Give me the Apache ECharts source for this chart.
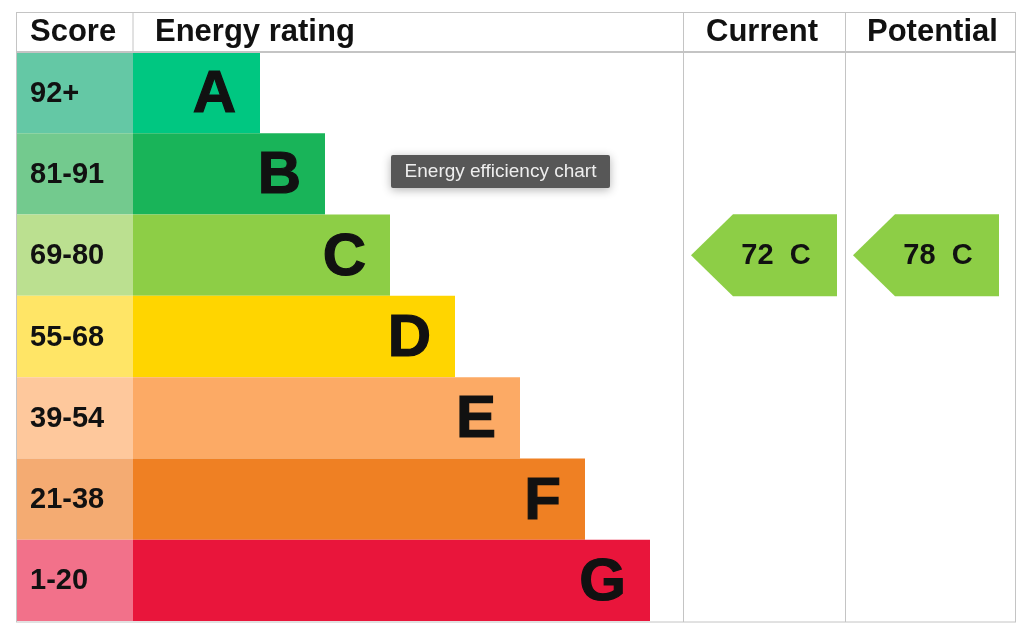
<!DOCTYPE html>
<html>
<head>
<meta charset="utf-8">
<script src="https://cdn.jsdelivr.net/npm/echarts@6/dist/echarts.min.js"></script>
<style>
  html, body { margin: 0; padding: 0; background: #fff; }
  #chart { width: 1024px; height: 637px; }
</style>
</head>
<body>
<div id="chart"></div>
<script>
// energy bands, top (best) to bottom (worst)
var bands = ['A', 'B', 'C', 'D', 'E', 'F', 'G'];
var scoreRanges = ['92+', '81-91', '69-80', '55-68', '39-54', '21-38', '1-20'];
var bandMin = [92, 81, 69, 55, 39, 21, 1];
// bar length of each band on the rating scale (0..550)
var barLengths = [127, 192, 257, 322, 387, 452, 517];
var bandColors = ['#00c781', '#19b459', '#8dce46', '#ffd500', '#fcaa65', '#ef8023', '#e9153b'];
var scoreColors = ['#64c8a5', '#73ca8e', '#bbe090', '#ffe566', '#fec89c', '#f4ab72', '#f2718a'];
var currentScore = 72;
var potentialScore = 78;

var FONT = 'Liberation Sans';

function bandOf(score) {
  for (var i = 0; i < bandMin.length; i++) {
    if (score >= bandMin[i]) return i;
  }
  return bandMin.length - 1;
}

var chart = echarts.init(document.getElementById('chart'));

var gridTop = 52, gridHeight = 569;
var grids = [
  { left: 16, top: gridTop, width: 117, height: gridHeight },
  { left: 133, top: gridTop, width: 550, height: gridHeight },
  { left: 683, top: gridTop, width: 162, height: gridHeight },
  { left: 845, top: gridTop, width: 162, height: gridHeight }
];

var xAxes = [], yAxes = [];
for (var g = 0; g < grids.length; g++) {
  xAxes.push({
    gridIndex: g, type: 'value', min: 0, max: g === 1 ? 550 : 1, show: false
  });
  yAxes.push({
    gridIndex: g, type: 'category', data: bands, inverse: true, show: false
  });
}

function arrowSeries(name, gridIndex, score) {
  var b = bandOf(score);
  return {
    name: name,
    type: 'scatter',
    xAxisIndex: gridIndex,
    yAxisIndex: gridIndex,
    symbol: 'path://M0,41 L42,0 L146,0 L146,82 L42,82 Z',
    symbolSize: [146, 82],
    itemStyle: { color: bandColors[b], opacity: 1 },
    label: {
      show: true,
      position: 'inside',
      offset: [12, 1],
      formatter: score + '  ' + bands[b],
      fontFamily: FONT,
      fontWeight: 'bold',
      fontSize: 29,
      color: '#111'
    },
    data: [[0.5, bands[b]]],
    silent: true
  };
}

var headerStyle = { fontFamily: FONT, fontWeight: 'bold', fontSize: 31, fill: '#111' };
function header(text, x) {
  return {
    type: 'text', left: x, top: 17, z: 10,
    style: Object.assign({ text: text }, headerStyle)
  };
}
function line(x1, y1, x2, y2, w) {
  return {
    type: 'line', z: 5,
    shape: { x1: x1, y1: y1, x2: x2, y2: y2 },
    style: { stroke: '#c4c4c4', lineWidth: w || 1 }
  };
}

var option = {
  backgroundColor: '#fff',
  animation: false,
  grid: grids,
  xAxis: xAxes,
  yAxis: yAxes,
  series: [
    {
      type: 'bar',
      xAxisIndex: 0, yAxisIndex: 0,
      barWidth: '100%',
      data: bands.map(function (b, i) {
        return { value: 1, itemStyle: { color: scoreColors[i] } };
      }),
      label: {
        show: true,
        position: 'insideLeft',
        distance: 14,
        offset: [0, 1],
        formatter: function (p) { return scoreRanges[p.dataIndex]; },
        fontFamily: FONT, fontWeight: 'bold', fontSize: 29, color: '#111'
      },
      silent: true
    },
    {
      type: 'bar',
      xAxisIndex: 1, yAxisIndex: 1,
      barWidth: '100%',
      data: barLengths.map(function (v, i) {
        return { value: v, itemStyle: { color: bandColors[i] } };
      }),
      label: {
        show: true,
        position: 'insideRight',
        distance: 24,
        offset: [0, 3],
        formatter: function (p) { return bands[p.dataIndex]; },
        fontFamily: FONT, fontWeight: 'bold', fontSize: 60, color: '#111',
        textBorderColor: '#111', textBorderWidth: 1.2
      },
      silent: true
    },
    arrowSeries('Current', 2, currentScore),
    arrowSeries('Potential', 3, potentialScore)
  ],
  graphic: [
    line(16, 12.5, 1016, 12.5),
    line(16, 622, 1016, 622),
    line(16.5, 12, 16.5, 622),
    line(1015.5, 12, 1015.5, 622),
    line(16, 52, 1016, 52, 2),
    line(133, 12, 133, 52),
    line(683.5, 12, 683.5, 622),
    line(845.5, 12, 845.5, 622),
    header('Score', 30),
    header('Energy rating', 155),
    header('Current', 706),
    header('Potential', 867),
    {
      type: 'group', left: 391, top: 155, z: 20,
      children: [
        {
          type: 'rect',
          shape: { x: 0, y: 0, width: 219, height: 33, r: 2 },
          style: { fill: '#575757', shadowBlur: 10, shadowColor: 'rgba(0,0,0,0.3)', shadowOffsetY: 2 }
        },
        {
          type: 'text', x: 109.5, y: 17,
          style: {
            text: 'Energy efficiency chart', fill: '#eeeeee',
            fontFamily: FONT, fontSize: 19,
            textAlign: 'center', textVerticalAlign: 'middle'
          }
        }
      ]
    }
  ]
};

chart.setOption(option);
</script>
</body>
</html>
